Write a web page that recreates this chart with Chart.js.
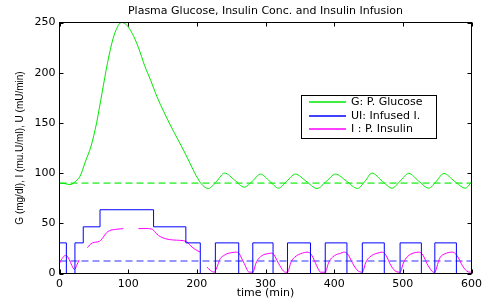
<!DOCTYPE html>
<html>
<head>
<meta charset="utf-8">
<script src="https://cdn.jsdelivr.net/npm/chart.js@4.4.1/dist/chart.umd.min.js"></script>
<style>
  html, body { margin: 0; padding: 0; background: #fff; }
  #wrap { width: 486px; height: 304px; }
</style>
</head>
<body>
<div id="wrap"><canvas id="glucoseChart" width="486" height="304"></canvas></div>
<script>
// --- DADOS ---
const chartTitle = 'Plasma Glucose, Insulin Conc. and Insulin Infusion';
const xLabel = 'time (min)';
const yLabel = 'G (mg/dl), I (mu.U/ml), U (mU/min)';
const xTicks = [0, 100, 200, 300, 400, 500, 600];
const yTicks = [0, 50, 100, 150, 200, 250];
const legendLabels = ['G: P. Glucose', 'UI: Infused I.', 'I : P. Insulin'];

// glicose plasmática
const glucoseTime = [0, 8, 15, 22, 30, 38, 46, 54, 62, 70, 78, 84, 90, 97, 106, 115, 124, 133, 142, 152, 162, 172, 182, 192, 201, 209, 217,
  229, 240.5, 255, 269, 281, 292.5, 306, 319, 331, 343.5, 359, 375, 389, 401.8, 418, 434, 445, 455, 470, 484.4, 496, 508.6, 523, 537.7,
  549, 559.6, 575, 591, 600];
const glucoseValue = [90, 89.5, 88.5, 91, 97, 112, 127, 150, 180, 210, 234, 245, 250, 248, 239, 225, 207, 192, 176, 161, 147, 134, 121, 107, 95, 87.5, 84.7,
  92, 100, 93, 86, 92, 99, 92, 85, 92, 99, 92, 84.7, 92, 99, 92, 84.7, 92, 100, 92, 85, 92, 99.7, 92, 85,
  92, 99.7, 92, 85, 91];

// infusão de insulina (degraus)
const infusionTime = [0, 10, 22.5, 34.6, 59, 137, 184, 205, 227, 261, 281.5, 311, 332, 365.5, 387, 418.6, 441, 473, 496, 527, 546.6, 578, 600];
const infusionValue = [30.5, 0, 30.5, 46.5, 63.5, 46.5, 30.5, 0, 30.5, 0, 30.5, 0, 30.5, 0, 30.5, 0, 30.5, 0, 30.5, 0, 30.5, 0, 30.5];

// insulina plasmática (null = falha na curva)
const insulinTime = [
  0, 3, 7, 10, 14, 18, 22, 25, 28.5, 34,
  40.8, 44, 48, 53, 58, 62, 66, 70, 75, 82, 93, 104,
  115, 125, 134.5, 137, 140, 144, 149, 154, 160, 170, 180, 185.5, 189, 193, 198, 205, 210,
  214.8, 220, 225.5, 228, 231, 234, 239, 244, 251, 258, 262, 265, 269, 272, 275.5, 281.5,
  283.5, 285.5, 288.5, 292.5, 297.5, 303.5, 308, 312, 315, 319, 323, 326, 329, 332,
  334, 336, 339, 343, 348, 354, 360.5, 366, 369.5, 373, 376, 378.5, 380, 387,
  389, 391, 394, 398, 403, 409, 414, 419.5, 423, 427, 431, 435, 440.7,
  443, 445, 448, 452, 457, 463, 470, 474, 477.5, 481, 485, 489, 494, 496,
  498, 500, 503, 507, 512, 518, 523, 528, 531.5, 535, 539, 542, 545, 546.6,
  548.6, 550.6, 553, 556, 561, 566, 572, 577, 581, 585, 589, 593, 598.5, 600];
const insulinValue = [
  10, 14, 17.5, 18, 14, 8, 4, 8, 13.5, null,
  25.7, 28.5, 30.5, 31.3, 32, 34.5, 38.5, 41.5, 43.2, 44, 44.7, null,
  44.7, 44.8, 44.3, 43, 40.5, 38, 36, 34.7, 33.8, 33.2, 32.7, 31.5, 29, 26.3, 23.8, 21.3, null,
  6.3, 3, 1.3, 4, 9.5, 14.7, 17.8, 19.7, 20.8, 21.3, 19.5, 15.5, 10, 5.5, 1.5, 1.3,
  4, 9, 13.5, 16.5, 18.8, 19.7, 20.3, 19, 15.5, 10, 5.5, 2.5, 1.3, 1.3,
  4, 9, 13.5, 16.5, 18.8, 20.3, 21.3, 19.5, 15.5, 10, 5.5, 2.5, 1.3, 1.3,
  4, 9, 13.5, 16.5, 18.8, 20, 21.3, 19.5, 15.5, 10, 5.5, 2.5, 1.3,
  4, 9, 13.5, 16.5, 18.8, 20.3, 21.3, 19.5, 15.5, 10, 5.5, 2.5, 1.3, 1.3,
  4, 9, 13.5, 17, 19.5, 20.8, 21.3, 19.5, 15.5, 10, 5.5, 2.5, 1.3, 1.3,
  4, 9, 14, 17.5, 19.5, 20.8, 21.3, 19.5, 15.5, 10, 5.5, 2.5, 1.3, 1.3];

// valores basais (linhas tracejadas)
const glucoseBasal = 90;
const insulinBasal = 12.5;

// --- CORES E FONTES ---
const green = '#00e800';
const blue = '#0000ff';
const magenta = '#ff00ff';
const textFont = '"DejaVu Sans", sans-serif';

const toPoints = (ts, vs) => ts.map((t, i) => ({ x: t, y: vs[i] }));
const flatLine = v => [{ x: xTicks[0], y: v }, { x: xTicks[xTicks.length - 1], y: v }];

// moldura estilo MATLAB: caixa, ticks para dentro, título e legenda
const matlabFrame = {
  id: 'matlabFrame',
  afterDraw(chart) {
    const { ctx, chartArea: a, scales: { x, y } } = chart;
    ctx.save();
    ctx.strokeStyle = '#000';
    ctx.lineWidth = 1;
    ctx.strokeRect(a.left, a.top, a.right - a.left, a.bottom - a.top);

    ctx.beginPath();
    xTicks.forEach(v => {
      const px = Math.round(x.getPixelForValue(v)) + 0.5;
      ctx.moveTo(px, a.bottom); ctx.lineTo(px, a.bottom - 4);
      ctx.moveTo(px, a.top); ctx.lineTo(px, a.top + 4);
    });
    yTicks.forEach(v => {
      const py = Math.round(y.getPixelForValue(v)) + 0.5;
      ctx.moveTo(a.left, py); ctx.lineTo(a.left + 4, py);
      ctx.moveTo(a.right, py); ctx.lineTo(a.right - 4, py);
    });
    ctx.stroke();

    // título
    ctx.fillStyle = '#000';
    ctx.font = '11px ' + textFont;
    ctx.textAlign = 'center';
    ctx.textBaseline = 'middle';
    ctx.fillText(chartTitle, (a.left + a.right) / 2, 11);

    // legenda
    const box = { x: 301.5, y: 95.5, w: 135, h: 43 };
    ctx.fillStyle = '#fff';
    ctx.fillRect(box.x, box.y, box.w, box.h);
    ctx.strokeRect(box.x, box.y, box.w, box.h);
    const rows = [102, 116, 129];
    const colors = [green, blue, magenta];
    ctx.textAlign = 'left';
    legendLabels.forEach((label, i) => {
      ctx.strokeStyle = colors[i];
      ctx.lineWidth = 1.5;
      ctx.beginPath();
      ctx.moveTo(309, rows[i]); ctx.lineTo(346, rows[i]);
      ctx.stroke();
      ctx.fillStyle = '#000';
      ctx.fillText(label, 351, rows[i]);
    });
    ctx.restore();
  }
};

const ctx = document.getElementById('glucoseChart').getContext('2d');
new Chart(ctx, {
  type: 'line',
  data: {
    datasets: [
      { data: toPoints(glucoseTime, glucoseValue), borderColor: green, borderWidth: 1, cubicInterpolationMode: 'monotone' },
      { data: toPoints(infusionTime, infusionValue), borderColor: blue, borderWidth: 1, stepped: 'before' },
      { data: toPoints(insulinTime, insulinValue), borderColor: magenta, borderWidth: 1, cubicInterpolationMode: 'monotone', spanGaps: false },
      { data: flatLine(glucoseBasal), borderColor: 'rgba(60,240,60,0.85)', borderWidth: 1.6, borderDash: [7, 4] },
      { data: flatLine(insulinBasal), borderColor: 'rgba(90,90,255,0.85)', borderWidth: 1.6, borderDash: [7, 4] }
    ]
  },
  options: {
    responsive: false,
    devicePixelRatio: 1,
    animation: false,
    layout: { padding: { top: 22.5, right: 14.5, bottom: 0, left: 0 } },
    elements: { point: { radius: 0 }, line: { tension: 0 } },
    plugins: { legend: { display: false }, tooltip: { enabled: false }, title: { display: false } },
    scales: {
      x: {
        type: 'linear', min: 0, max: 600,
        afterBuildTicks: s => { s.ticks = xTicks.map(v => ({ value: v })); },
        afterFit: s => { s.height = 30.5; },
        grid: { display: false, drawTicks: false },
        border: { display: false },
        ticks: { color: '#000', padding: 4, font: { family: textFont, size: 11 }, maxRotation: 0 },
        title: { display: true, text: xLabel, color: '#000', font: { family: textFont, size: 11 }, padding: { top: 0, bottom: 4 } }
      },
      y: {
        type: 'linear', min: 0, max: 250,
        afterBuildTicks: s => { s.ticks = yTicks.map(v => ({ value: v })); },
        afterFit: s => { s.width = 59.5; },
        grid: { display: false, drawTicks: false },
        border: { display: false },
        ticks: { color: '#000', padding: 4, font: { family: textFont, size: 11 } },
        title: { display: true, text: yLabel, color: '#000', font: { family: '"Liberation Sans", Arial, sans-serif', size: 10 }, padding: { top: 14, bottom: 0 } }
      }
    }
  },
  plugins: [matlabFrame]
});
</script>
</body>
</html>
